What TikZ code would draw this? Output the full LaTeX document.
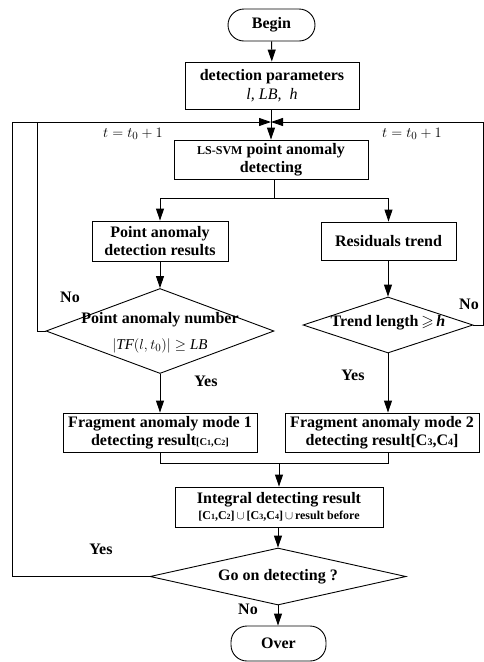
\documentclass[tikz,border=0pt]{standalone}
\usepackage{amssymb}
\usepackage{fontspec}
\setmainfont{Liberation Serif}
\usetikzlibrary{shapes.geometric,arrows.meta}
\tikzset{
  every picture/.style={line width=0.9pt},
  base/.style={font=\fontsize{16}{17.5}\selectfont\bfseries, align=center, inner sep=0pt},
  box/.style={base, draw, rectangle},
  term/.style={base, draw, rectangle, rounded corners=16pt},
  dia/.style={draw, diamond, inner sep=0pt},
  txt/.style={base},
  arr/.style={-{Triangle[length=12pt,width=8pt]}},
  lab/.style={font=\fontsize{16}{17.5}\selectfont\bfseries, inner sep=0pt},
  mlab/.style={font=\fontsize{15}{17}\selectfont, inner sep=0pt},
}
\begin{document}
\begin{tikzpicture}[x=1pt,y=-1pt]
\useasboundingbox (0,0) rectangle (484,662);
\clip (0,0) rectangle (484,662);
% nodes
\node[term, minimum width=87pt, minimum height=32pt] (begin) at (271.5,25) {Begin};
\node[box, minimum width=174pt, minimum height=47pt] (par) at (272,85.5) {detection parameters\\[1pt]{\mdseries\itshape l, LB,\ \ h}};
\node[box, minimum width=194pt, minimum height=39pt] (ls) at (271,159.5) {{\fontsize{12}{14}\selectfont LS-SVM} point anomaly\\detecting};
\node[box, minimum width=136pt, minimum height=40pt] (pad) at (160,241) {Point anomaly\\detection results};
\node[box, minimum width=135pt, minimum height=38pt] (rt) at (388.5,241) {Residuals trend};
\node[dia, minimum width=228pt, minimum height=85pt] (d1) at (160,331) {};
\node[txt] (d1a) at (160,320) {Point anomaly number};
\node[mlab] (d1b) at (160,346) {$\left|\mathit{TF}(l,t_0)\right|\geq \mathit{LB}$};
\node[dia, minimum width=170pt, minimum height=56pt] (d2) at (388,325) {};
\node[txt] (d2a) at (388,323) {Trend length\,$\geqslant$\,\textit{h}};
\node[box, minimum width=194pt, minimum height=39pt] (f1) at (160,432.5) {Fragment anomaly mode 1\\detecting result{\fontsize{10.5}{12}\selectfont[C{\fontsize{8}{9}\selectfont 1},C{\fontsize{8}{9}\selectfont 2}]}};
\node[box, minimum width=194pt, minimum height=39pt] (f2) at (382,432.5) {Fragment anomaly mode 2\\detecting result[C{\fontsize{10}{12}\selectfont 3},C{\fontsize{10}{12}\selectfont 4}]};
\node[box, minimum width=208pt, minimum height=40pt] (int) at (279,507) {Integral detecting result\\[-1pt]{\fontsize{12}{14}\selectfont [C{\fontsize{8}{9}\selectfont 1},C{\fontsize{8}{9}\selectfont 2}]\,$\cup$\,[C{\fontsize{8}{9}\selectfont 3},C{\fontsize{8}{9}\selectfont 4}]\,$\cup$\,result before}};
\node[dia, minimum width=256pt, minimum height=57pt] (d3) at (278,576.5) {};
\node[txt] (d3a) at (278,577) {Go on detecting ?};
\node[term, minimum width=95pt, minimum height=35pt] (over) at (278.5,643.5) {Over};
% coordinates
\coordinate (J) at (271,122);
\coordinate (JL) at (37,122);
\coordinate (JR) at (483.5,122);
\coordinate (S) at (274,198);
\coordinate (M) at (279,463);
% connectors
\draw[arr] (begin) -- (par);
\draw[arr] (par.south -| J) -- (J |- ls.north);
\draw[arr] (d3.west) -| (12,122) -- (J);
\draw (d1.west) -| (JL);
\draw[arr] (d2.east) -| (JR) -- (J);
\draw (ls.south -| S) -- (S);
\draw[arr] (S) -| (pad.north);
\draw[arr] (S) -| (rt.north);
\draw[arr] (pad) -- (d1);
\draw[arr] (rt.south -| d2.north) -- (d2.north);
\draw[arr] (d1.south) -- (d1.south |- f1.north);
\draw[arr] (d2.south) -- (d2.south |- f2.north);
\draw (f1.south) |- (M);
\draw (f2.south -| d2.south) |- (M);
\draw[arr] (M) -- (M |- int.north);
\draw[arr] (int.south -| d3.north) -- (d3.north);
\draw[arr] (d3.south) -- (over.north -| d3.south);
% labels
\node[mlab] (t1) at (133,134) {$t=t_0+1$};
\node[mlab] (t2) at (412,134) {$t=t_0+1$};
\node[lab] (no1) at (70,297) {No};
\node[lab] (no2) at (469,304) {No};
\node[lab] (yes1) at (206,381) {Yes};
\node[lab] (yes2) at (353,375) {Yes};
\node[lab] (yes3) at (101,549) {Yes};
\node[lab] (no3) at (248,609) {No};
\end{tikzpicture}
\end{document}
